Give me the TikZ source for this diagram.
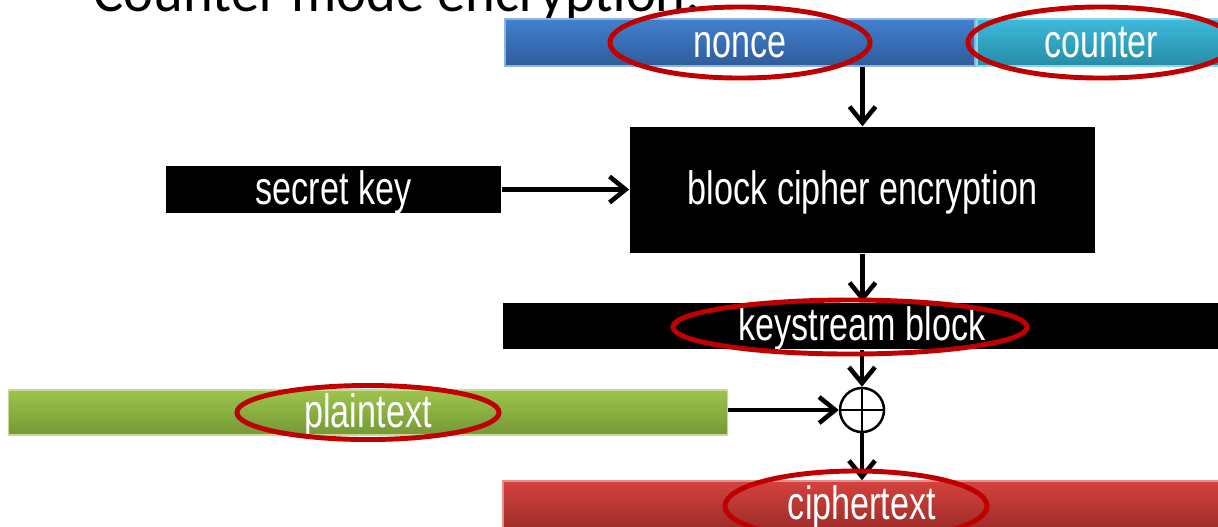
\documentclass[tikz,border=0pt]{standalone}
\usepackage{fontspec}
\setmainfont[FakeStretch=0.73]{Liberation Sans}
\newfontfamily\titlefont{Carlito}
\usetikzlibrary{arrows.meta}
\definecolor{noncetop}{RGB}{66,128,206}
\definecolor{noncebot}{RGB}{46,92,154}
\definecolor{ctrtop}{RGB}{62,186,220}
\definecolor{ctrbot}{RGB}{38,140,166}
\definecolor{plaintop}{RGB}{156,197,76}
\definecolor{plainbot}{RGB}{117,152,54}
\definecolor{ciphtop}{RGB}{212,66,62}
\definecolor{ciphbot}{RGB}{158,44,40}
\definecolor{ringred}{RGB}{192,0,0}
\begin{document}
\begin{tikzpicture}[x=0.01cm,y=-0.01cm,
    bar/.style={rectangle, inner sep=0pt, text=white, text height=0.33cm, text depth=0.04cm, font=\fontsize{13.3}{15}\selectfont},
    blackbar/.style={bar, fill=black},
    ring/.style={draw=ringred, line width=1.4pt},
    flow/.style={line width=1.3pt, -{Straight Barb[length=0.16cm, width=0.26cm, line width=1.3pt]}}]
    \clip (0,0) rectangle (1218,526);
    % heading, cut off by the top edge
    \node[anchor=base west, inner sep=0pt, font=\titlefont\fontsize{16.1}{18}\selectfont] (title) at (93,11.5) {Counter mode encryption:};
    % input blocks
    \node[bar, top color=noncetop, bottom color=noncebot, draw=noncetop!60!white, minimum width=4.70cm, minimum height=0.47cm] (nonce) at (740,42.5) {nonce};
    \node[bar, top color=ctrtop, bottom color=ctrbot, draw=ctrtop!60!white, minimum width=2.48cm, minimum height=0.47cm] (counter) at (1101,42.5) {counter};
    \node[blackbar, minimum width=4.65cm, minimum height=1.26cm] (block) at (862.5,190) {block cipher encryption};
    \node[blackbar, minimum width=3.35cm, minimum height=0.47cm] (key) at (333.5,189.5) {secret key};
    \node[blackbar, minimum width=7.18cm, minimum height=0.46cm] (stream) at (862,326) {keystream block};
    \node[bar, top color=plaintop, bottom color=plainbot, draw=plaintop!60!white, minimum width=7.18cm, minimum height=0.45cm] (plain) at (368,412.5) {plaintext};
    \node[circle, draw, line width=0.7pt, minimum size=0.44cm, inner sep=0pt] (xor) at (862,410) {};
    \draw[line width=0.7pt] (xor.north) -- (xor.south) (xor.west) -- (xor.east);
    \node[bar, top color=ciphtop, bottom color=ciphbot, draw=ciphtop!60!white, minimum width=7.18cm, minimum height=0.48cm] (cipher) at (862,505) {ciphertext};
    % connectors
    \draw[flow] (nonce.south -| block.north) -- (block.north);
    \draw[flow] (key.east) -- (block.west |- key.east);
    \draw[flow] (block.south) -- (block.south |- stream.north);
    \draw[flow] (stream.south -| xor.north) -- (xor.north);
    \draw[flow] (plain.east |- xor.west) -- (xor.west);
    \draw[flow] (xor.south) -- (xor.south |- cipher.north);
    % highlight rings
    \draw[ring] (nonce.center) ellipse [x radius=1.30cm, y radius=0.355cm];
    \draw[ring] (counter.center) ellipse [x radius=1.33cm, y radius=0.355cm];
    \draw[ring] (850,327) ellipse [x radius=1.77cm, y radius=0.27cm];
    \draw[ring] (plain.center) ellipse [x radius=1.31cm, y radius=0.27cm];
    \draw[ring] (856,506) ellipse [x radius=1.31cm, y radius=0.35cm];
\end{tikzpicture}
\end{document}
